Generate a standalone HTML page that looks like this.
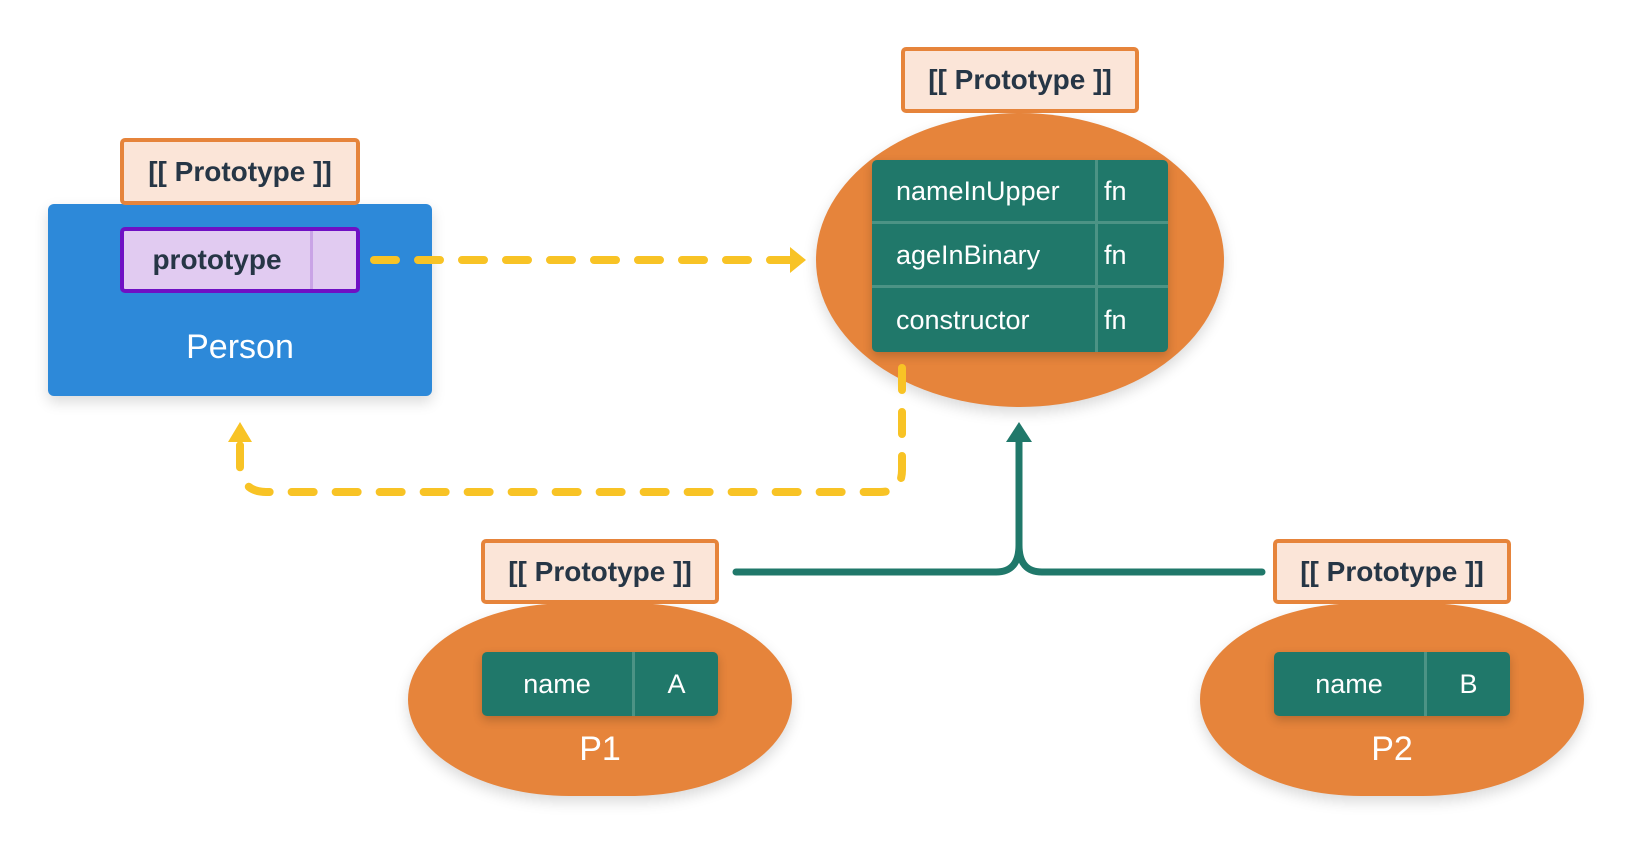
<!DOCTYPE html>
<html><head><meta charset="utf-8"><style>
body{margin:0;width:1632px;height:844px;background:#fff;position:relative;overflow:hidden;font-family:"Liberation Sans",sans-serif}
.a{position:absolute;box-sizing:border-box}
.lbl{background:#fbe5d8;border:4px solid #e6843b;border-radius:5px;color:#263646;font-weight:bold;font-size:28px;display:flex;align-items:center;justify-content:center}
.blob{background:#e6843b;box-shadow:0 6px 14px rgba(0,0,0,.15)}
.tbl{background:#20786a;border-radius:5px;color:#fff;font-size:27px;box-shadow:0 4px 10px rgba(0,0,0,.2)}
.cell{position:absolute;display:flex;align-items:center}
.w{color:#fff;font-size:34px;text-align:center}
</style></head><body>
<svg class="a" style="left:0;top:0" width="1632" height="844">
</svg>
<!-- Person -->
<div class="a" style="left:48px;top:204px;width:384px;height:192px;background:#2d89d9;border-radius:6px;box-shadow:0 6px 14px rgba(0,0,0,.15)"></div>
<div class="a lbl" style="left:120px;top:138px;width:240px;height:67px">[[ Prototype ]]</div>
<div class="a" style="left:120px;top:227px;width:240px;height:66px;background:#e1cbf1;border:4px solid #6f10c4;border-radius:5px"></div>
<div class="a" style="left:310px;top:231px;width:3px;height:58px;background:#c9a3e6"></div>
<div class="a" style="left:124px;top:231px;width:186px;height:58px;display:flex;align-items:center;justify-content:center;color:#263646;font-weight:bold;font-size:28px">prototype</div>
<div class="a w" style="left:48px;top:328px;width:384px">Person</div>
<!-- top object -->
<div class="a blob" style="left:816px;top:113px;width:408px;height:294px;border-radius:50%"></div>
<div class="a lbl" style="left:901px;top:47px;width:238px;height:66px">[[ Prototype ]]</div>
<div class="a tbl" style="left:872px;top:160px;width:296px;height:192px">
<div class="cell" style="left:24px;top:0;height:62px">nameInUpper</div>
<div class="cell" style="left:232px;top:0;height:62px">fn</div>
<div class="cell" style="left:24px;top:64px;height:62px">ageInBinary</div>
<div class="cell" style="left:232px;top:64px;height:62px">fn</div>
<div class="cell" style="left:24px;top:128px;height:64px">constructor</div>
<div class="cell" style="left:232px;top:128px;height:64px">fn</div>
<div class="a" style="left:0;top:61px;width:296px;height:3px;background:#4c9385"></div>
<div class="a" style="left:0;top:125px;width:296px;height:3px;background:#4c9385"></div>
<div class="a" style="left:223px;top:0;width:3px;height:192px;background:#4c9385"></div>
</div>
<!-- P1 -->
<div class="a blob" style="left:408px;top:603px;width:384px;height:193px;border-radius:42%/50%"></div>
<div class="a lbl" style="left:481px;top:539px;width:238px;height:65px">[[ Prototype ]]</div>
<div class="a tbl" style="left:482px;top:652px;width:236px;height:64px">
<div class="a" style="left:150px;top:0;width:3px;height:64px;background:#4c9385"></div>
<div class="cell" style="left:0;width:150px;height:64px;justify-content:center">name</div>
<div class="cell" style="left:153px;width:83px;height:64px;justify-content:center">A</div>
</div>
<div class="a w" style="left:408px;top:730px;width:384px">P1</div>
<!-- P2 -->
<div class="a blob" style="left:1200px;top:603px;width:384px;height:193px;border-radius:42%/50%"></div>
<div class="a lbl" style="left:1273px;top:539px;width:238px;height:65px">[[ Prototype ]]</div>
<div class="a tbl" style="left:1274px;top:652px;width:236px;height:64px">
<div class="a" style="left:150px;top:0;width:3px;height:64px;background:#4c9385"></div>
<div class="cell" style="left:0;width:150px;height:64px;justify-content:center">name</div>
<div class="cell" style="left:153px;width:83px;height:64px;justify-content:center">B</div>
</div>
<div class="a w" style="left:1200px;top:730px;width:384px">P2</div>
<svg class="a" style="left:0;top:0;pointer-events:none" width="1632" height="844">
<g fill="none" stroke="#f8c325" stroke-width="8" stroke-linecap="round" stroke-dasharray="22 22">
<path d="M374 260 H790"/>
<path d="M902 368 V470 Q902 492 880 492 H266 Q244 492 240 470 V440"/>
</g>
<polygon points="806,260 790,247 790,273" fill="#f8c325"/>
<polygon points="240,422 228,442 252,442" fill="#f8c325"/>
<g fill="none" stroke="#20786a" stroke-width="7" stroke-linecap="round">
<path d="M736 572 H996 Q1019 572 1019 545 V436"/>
<path d="M1262 572 H1042 Q1019 572 1019 545"/>
</g>
<polygon points="1019,422 1006,442 1032,442" fill="#20786a"/>
</svg>
</body></html>
